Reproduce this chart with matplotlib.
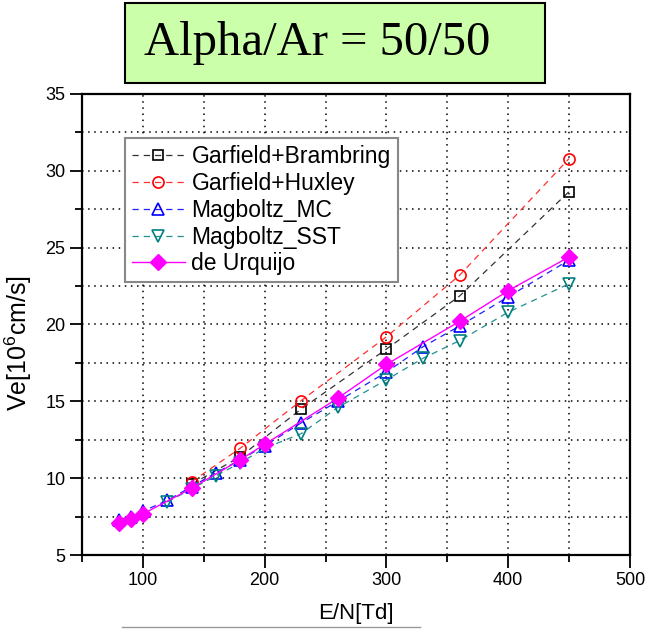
import matplotlib
matplotlib.use("Agg")
import matplotlib.pyplot as plt
from matplotlib.lines import Line2D
from matplotlib.patches import Rectangle
from matplotlib.ticker import MultipleLocator

plt.rcParams['font.family'] = ['Liberation Sans', 'DejaVu Sans']
plt.rcParams['mathtext.fontset'] = 'custom'
plt.rcParams['mathtext.rm'] = 'Liberation Sans'
plt.rcParams['mathtext.default'] = 'regular'

# ---- data ----
title_text = "Alpha/Ar = 50/50"
xlabel = "E/N[Td]"
ylabel = "Ve[10$^{6}$cm/s]"

brambring_x = [140, 180, 230, 300, 360, 450]
brambring_y = [9.6, 11.4, 14.5, 18.4, 21.85, 28.65]

huxley_x = [140, 180, 230, 300, 360, 450]
huxley_y = [9.77, 11.95, 15.05, 19.2, 23.2, 30.8]

mc_x = [80, 90, 100, 120, 140, 160, 180, 200, 230, 260, 300, 330, 360, 400, 450]
mc_y = [7.3, 7.5, 7.85, 8.55, 9.45, 10.35, 11.2, 12.1, 13.6, 15.0, 16.9, 18.55, 19.9, 21.8, 24.2]

sst_x = [120, 140, 160, 180, 200, 230, 260, 300, 330, 360, 400, 450]
sst_y = [8.45, 9.3, 10.15, 11.0, 11.95, 12.9, 14.6, 16.4, 17.8, 18.95, 20.8, 22.65]

urq_x = [80, 90, 100, 140, 180, 200, 260, 300, 360, 400, 450]
urq_y = [7.07, 7.33, 7.67, 9.34, 11.2, 12.2, 15.2, 17.4, 20.2, 22.2, 24.4]

W, H = 649, 629
fig = plt.figure(figsize=(W / 100, H / 100), dpi=100)
ax = fig.add_axes([82 / W, 1 - 555 / H, (630 - 82) / W, (555 - 94) / H])

dash = (0, (5, 4))
ax.plot(brambring_x, brambring_y, color='#333333', linestyle=dash, lw=0.9,
        marker='s', ms=7, mfc='none', mec='black', mew=1.2, label='Garfield+Brambring')
ax.plot(huxley_x, huxley_y, color='#ff3030', linestyle=dash, lw=0.9,
        marker='o', ms=8, mfc='none', mec='red', mew=1.2, label='Garfield+Huxley')
ax.plot(mc_x, mc_y, color='#2020ff', linestyle=dash, lw=0.9,
        marker='^', ms=9, mfc='none', mec='blue', mew=1.2, label='Magboltz_MC')
ax.plot(sst_x, sst_y, color='#209090', linestyle=dash, lw=0.9,
        marker='v', ms=9, mfc='none', mec='#008080', mew=1.2, label='Magboltz_SST')
ax.plot(urq_x, urq_y, color='#ff00ff', linestyle='-', lw=1.0,
        marker='D', ms=8.5, mfc='#ff00ff', mec='#ff00ff', label='de Urquijo')

ax.set_xlim(50, 500)
ax.set_ylim(5, 35)
ax.xaxis.set_major_locator(MultipleLocator(100))
ax.xaxis.set_minor_locator(MultipleLocator(50))
ax.yaxis.set_major_locator(MultipleLocator(5))
ax.yaxis.set_minor_locator(MultipleLocator(2.5))
ax.tick_params(which='major', direction='out', length=9, width=1.3, labelsize=13, pad=3)
ax.tick_params(which='minor', direction='out', length=5, width=1.3)
ax.tick_params(top=False, right=False, which='both')
for s in ax.spines.values():
    s.set_linewidth(1.6)
ax.grid(True, which='both', color='black', linestyle=(0, (1, 3)), linewidth=1.1)
ax.set_axisbelow(True)

ax.set_xlabel(xlabel, fontsize=16)
ax.xaxis.set_label_coords(0.5, -0.105)
ax.set_ylabel(ylabel, fontsize=18)
ax.yaxis.set_label_coords(-0.088, 0.46)

leg = ax.legend(loc='upper left', bbox_to_anchor=((125 - 82) / 548, (555 - 138) / 461),
                borderaxespad=0, fontsize=16.5, frameon=True, fancybox=False,
                edgecolor='#888888', framealpha=1, handlelength=2.3,
                handletextpad=0.3, labelspacing=0.17, borderpad=0.3)
leg.get_frame().set_linewidth(1.5)

fig.add_artist(Rectangle((125 / W, 1 - 83 / H), (545 - 125) / W, 80 / H,
                         transform=fig.transFigure, facecolor='#ccffaa',
                         edgecolor='black', linewidth=1.5))
fig.text(317 / W, 1 - 43 / H, title_text, fontsize=35,
         family=['Liberation Serif', 'DejaVu Serif'], ha='center', va='center')

fig.add_artist(Line2D([122 / W, 420 / W], [1 - 627 / H, 1 - 627 / H],
                      color='#999999', lw=1.0, transform=fig.transFigure))

fig.savefig('out.png', dpi=100)
